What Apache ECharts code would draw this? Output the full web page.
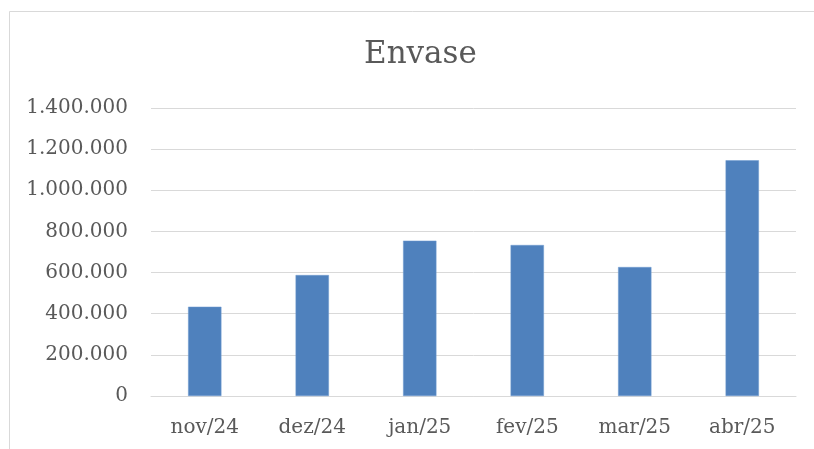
<!DOCTYPE html>
<html><head><meta charset="utf-8">
<script src="https://cdn.jsdelivr.net/npm/echarts@6/dist/echarts.min.js"></script>
<style>html,body{margin:0;padding:0;background:#fff}#c{width:814px;height:449px}</style>
</head><body><div id="c"></div>
<script>
const categories = ['nov/24','dez/24','jan/25','fev/25','mar/25','abr/25'];
const values = [434000, 588000, 755000, 734000, 627000, 1146000];
const yTicks = {min: 0, max: 1400000, interval: 200000};
const title = 'Envase';

const fontFamily = '"DejaVu Serif", serif';
const chart = echarts.init(document.getElementById('c'), null, {renderer: 'canvas'});
chart.setOption({
  animation: false,
  backgroundColor: '#fff',
  graphic: [{type: 'rect', shape: {x: 9.5, y: 11.5, width: 820, height: 460}, style: {fill: 'none', stroke: '#d9d9d9', lineWidth: 1}, silent: true}],
  title: {text: title, left: 359, top: 34, textStyle: {fontFamily: fontFamily, fontSize: 31, fontWeight: 'normal', color: '#595959'}},
  grid: {left: 151, right: 18, top: 108, bottom: 53, containLabel: false},
  xAxis: {type: 'category', data: categories,
    axisLine: {lineStyle: {color: '#d9d9d9', width: 1}}, axisTick: {show: false},
    axisLabel: {fontFamily: fontFamily, fontSize: 20, color: '#595959', margin: 22}},
  yAxis: {type: 'value', min: yTicks.min, max: yTicks.max, interval: yTicks.interval,
    axisLine: {show: false}, axisTick: {show: false},
    splitLine: {lineStyle: {color: '#d9d9d9', width: 1}},
    axisLabel: {fontFamily: fontFamily, fontSize: 20, color: '#595959', margin: 23,
      formatter: v => v.toString().replace(/\B(?=(\d{3})+(?!\d))/g, '.')}},
  series: [{type: 'bar', data: values, barWidth: '31%',
    itemStyle: {color: '#4f81bd', borderColor: '#6f9bd1', borderWidth: 0.5}}]
});
</script></body></html>
